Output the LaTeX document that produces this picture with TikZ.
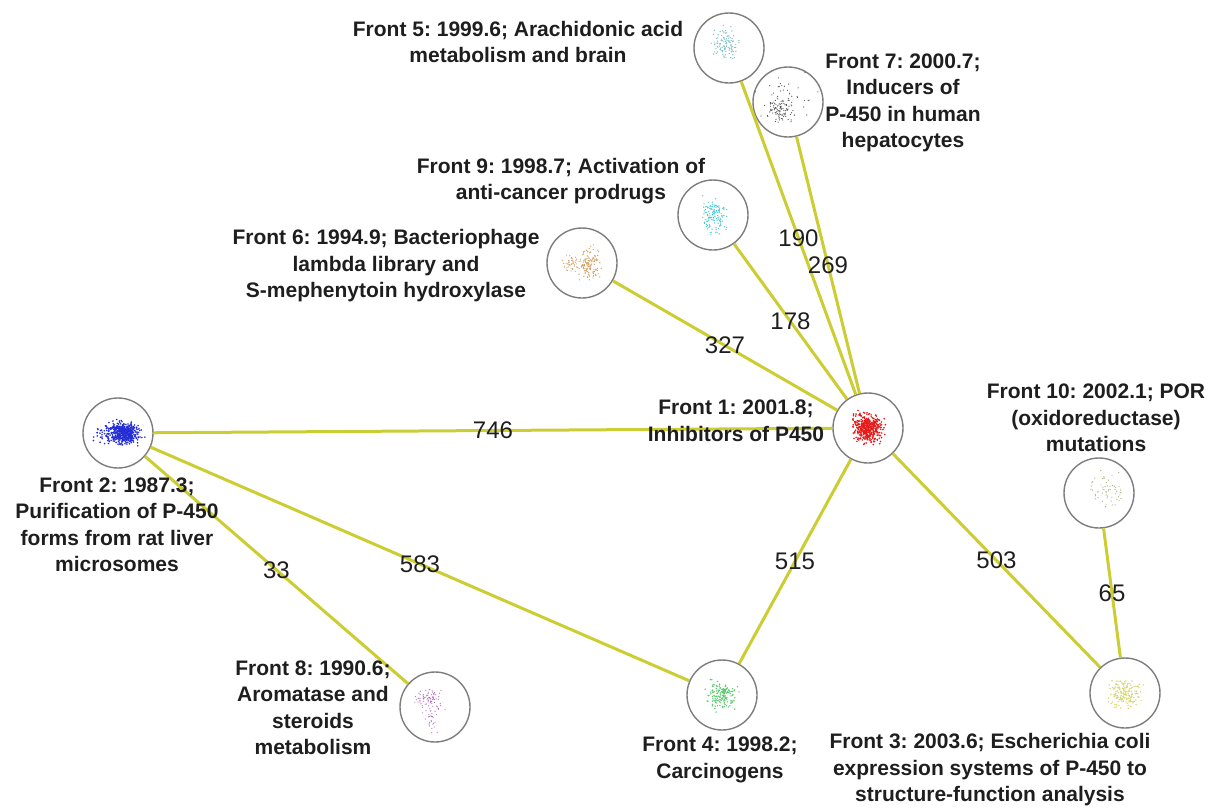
\documentclass[tikz,border=0pt]{standalone}
\usepackage{fontspec}
\setmainfont{Liberation Sans}
\frenchspacing
\usetikzlibrary{calc}
\definecolor{edgecol}{RGB}{204,204,51}
\definecolor{ringcol}{RGB}{125,125,125}
\definecolor{txtcol}{RGB}{30,30,30}
\definecolor{cF1}{RGB}{230,25,25}
\definecolor{cF2}{RGB}{35,45,215}
\definecolor{cF3}{RGB}{215,215,110}
\definecolor{cF4}{RGB}{90,200,110}
\definecolor{cF5}{RGB}{130,190,200}
\definecolor{cF6}{RGB}{210,160,100}
\definecolor{cF7}{RGB}{80,80,80}
\definecolor{cF8}{RGB}{175,110,190}
\definecolor{cF9}{RGB}{70,200,210}
\definecolor{cF10}{RGB}{160,175,110}
\newcommand\dotcloud[6]{%
  \foreach \i in {1,...,#3}{\fill[#2] ($(#1)+({#4*(rand+rand+rand)/3},{#5*(rand+rand+rand)/3})$) circle (#6);}}
\tikzset{
  front/.style={circle, draw=ringcol, line width=1.4pt, fill=white, minimum size=70pt, inner sep=0pt},
  flabel/.style={align=center, text=txtcol, font=\bfseries\fontsize{21}{26.5}\selectfont, inner sep=0pt},
  link/.style={draw=edgecol, line width=3pt},
  wlabel/.style={text=txtcol, font=\fontsize{24}{28}\selectfont, inner sep=0pt}
}
\begin{document}
\begin{tikzpicture}[x=1pt,y=-1pt]
\useasboundingbox (0,0) rectangle (1211,809);
\pgfmathsetseed{7}
% circles
\node[front] (F1) at (868,428) {};
\node[front] (F2) at (118,433) {};
\node[front] (F3) at (1125,693) {};
\node[front] (F4) at (722,695) {};
\node[front] (F5) at (729,48) {};
\node[front] (F6) at (582,263) {};
\node[front] (F7) at (788,102) {};
\node[front] (F8) at (435,707) {};
\node[front] (F9) at (713,215) {};
\node[front] (F10) at (1099,493) {};
% edges
\draw[link] (F2) -- node[wlabel]{746} (F1);
\draw[link] (F2) -- node[wlabel]{583} (F4);
\draw[link] (F2) -- node[wlabel]{33} (F8);
\draw[link] (F1) -- node[wlabel]{515} (F4);
\draw[link] (F1) -- node[wlabel]{503} (F3);
\draw[link] (F1) -- node[wlabel]{190} (F5);
\draw[link] (F1) -- node[wlabel]{269} (F7);
\draw[link] (F1) -- node[wlabel]{178} (F9);
\draw[link] (F1) -- node[wlabel]{327} (F6);
\draw[link] (F10) -- node[wlabel]{65} (F3);
% dot clouds
\dotcloud{F1}{cF1}{420}{22}{20}{0.9}
\dotcloud{F2}{cF2}{260}{30}{16}{0.9}
\dotcloud{$(F2)+(8,1)$}{cF2}{260}{16}{14}{0.9}
\dotcloud{F3}{cF3}{160}{22}{20}{0.8}
\dotcloud{F4}{cF4}{150}{20}{20}{0.8}
\dotcloud{$(F5)+(-4,-4)$}{cF5}{110}{18}{22}{0.7}
\dotcloud{$(F6)+(8,2)$}{cF6}{130}{16}{24}{0.7}
\dotcloud{$(F6)+(-12,0)$}{cF6}{50}{14}{12}{0.6}
\dotcloud{$(F7)+(-8,8)$}{cF7}{90}{18}{16}{0.6}
\dotcloud{$(F7)+(0,-4)$}{cF7}{45}{40}{36}{0.6}
\dotcloud{$(F8)+(-6,-8)$}{cF8}{80}{20}{14}{0.6}
\dotcloud{$(F8)+(-2,14)$}{cF8}{30}{12}{18}{0.6}
\dotcloud{F9}{cF9}{130}{18}{24}{0.7}
\dotcloud{$(F10)+(8,-4)$}{cF10}{60}{28}{24}{0.6}
% labels
\node[flabel] (L5) at (518,42) {Front 5: 1999.6; Arachidonic acid\\metabolism and brain};
\node[flabel] (L7) at (903,103) {Front 7: 2000.7;\\Inducers of\\P-450 in human\\hepatocytes};
\node[flabel] (L9) at (561,181) {Front 9: 1998.7; Activation of\\anti-cancer prodrugs};
\node[flabel] (L6) at (386,266) {Front 6: 1994.9; Bacteriophage\\lambda library and\\S-mephenytoin hydroxylase};
\node[flabel] (L1) at (736,421) {Front 1: 2001.8;\\Inhibitors of P450};
\node[flabel] (L10) at (1096,418) {Front 10: 2002.1; POR\\(oxidoreductase)\\mutations};
\node[flabel] (L2) at (117,525) {Front 2: 1987.3;\\Purification of P-450\\forms from rat liver\\microsomes};
\node[flabel] (L8) at (313,708) {Front 8: 1990.6;\\Aromatase and\\steroids\\metabolism};
\node[flabel] (L4) at (720,760) {Front 4: 1998.2;\\Carcinogens};
\node[flabel] (L3) at (990,770) {Front 3: 2003.6; Escherichia coli\\expression systems of P-450 to\\structure-function analysis};
\end{tikzpicture}
\end{document}
